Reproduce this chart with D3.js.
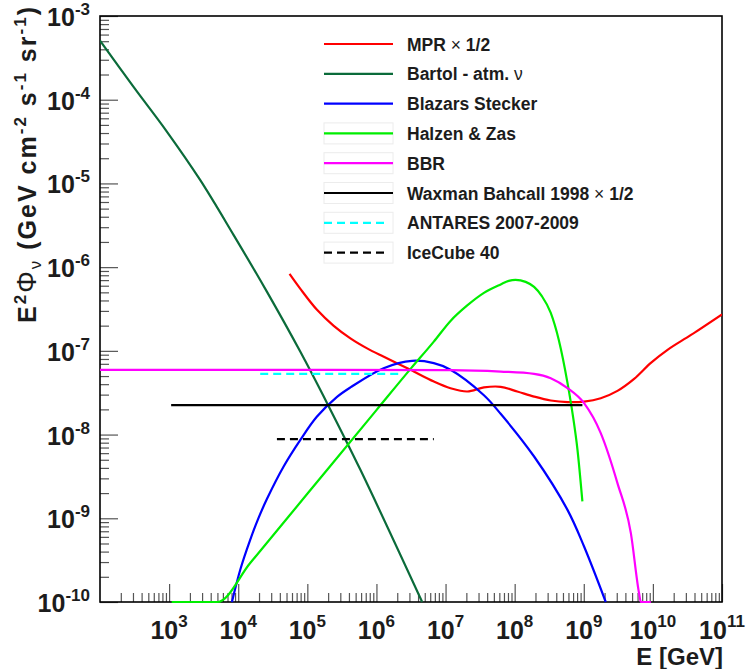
<!DOCTYPE html>
<html><head><meta charset="utf-8">
<script src="https://cdn.jsdelivr.net/npm/d3@7"></script>
<style>
body{margin:0;background:#fff}
svg{display:block}
text{font-family:"Liberation Sans",Arial,Helvetica,sans-serif;font-weight:bold;fill:#1c1c1c}
</style>
</head><body>
<svg id="chart" width="750" height="669"></svg>
<script>
// ---------- data ----------
const xTickExps = [3,4,5,6,7,8,9,10,11];
const yTickExps = [-3,-4,-5,-6,-7,-8,-9,-10];

const bartolE = [1.0e2, 3.04e2, 9.27e2, 2.81e3, 8.55e3, 2.61e4, 7.93e4, 1.99e5, 5.86e5, 4.59e6];
const bartolF = [5.07e-4, 1.43e-4, 4.16e-5, 1.10e-5, 2.43e-6, 5.06e-7, 9.73e-8, 2.26e-8, 3.79e-9, 1.0e-10];

const mprE = [5.53e4, 7.93e4, 1.38e5, 2.41e5, 4.20e5, 7.33e5, 1.28e6, 3.11e6, 6.78e6, 1.18e7, 2.06e7, 3.59e7, 6.27e7, 1.09e8, 1.91e8, 3.33e8, 5.81e8, 1.01e9, 1.76e9, 3.07e9, 5.35e9, 9.35e9, 1.63e10, 3.56e10, 1.0e11];
const mprF = [8.30e-7, 5.50e-7, 3.09e-7, 1.99e-7, 1.41e-7, 1.07e-7, 8.48e-8, 5.93e-8, 4.30e-8, 3.58e-8, 3.27e-8, 3.66e-8, 3.72e-8, 3.27e-8, 2.84e-8, 2.55e-8, 2.44e-8, 2.48e-8, 2.72e-8, 3.33e-8, 4.63e-8, 7.19e-8, 1.03e-7, 1.55e-7, 2.73e-7];

const blazarE = [8.11e3, 1.07e4, 1.49e4, 1.97e4, 2.61e4, 4.54e4, 7.93e4, 1.38e5, 2.69e5, 4.20e5, 1.27e6, 3.28e6, 6.76e6, 1.18e7, 3.59e7, 6.27e7, 1.91e8, 5.81e8, 1.01e9, 2.08e9];
const blazarF = [1.0e-10, 2.43e-10, 5.53e-10, 1.01e-9, 1.71e-9, 4.16e-9, 8.65e-9, 1.64e-8, 2.82e-8, 3.66e-8, 6.21e-8, 7.60e-8, 7.13e-8, 5.95e-8, 2.95e-8, 1.77e-8, 5.47e-9, 1.26e-9, 4.60e-10, 1.0e-10];

const halzenE = [1.09e3, 5.01e3, 1.49e4, 1.0e5, 1.0e6, 3.16e6, 6.76e6, 1.18e7, 2.06e7, 3.59e7, 6.27e7, 8.19e7, 1.03e8, 1.44e8, 1.91e8, 2.46e8, 3.33e8, 4.35e8, 5.81e8, 6.93e8, 8.11e8, 9.55e8];
const halzenF = [1.0e-10, 1.0e-10, 2.92e-10, 1.96e-9, 1.96e-8, 6.18e-8, 1.29e-7, 2.28e-7, 3.49e-7, 4.93e-7, 6.22e-7, 6.85e-7, 7.05e-7, 6.67e-7, 5.81e-7, 4.54e-7, 2.84e-7, 1.35e-7, 4.15e-8, 1.72e-8, 6.58e-9, 1.59e-9];

const bbrE = [1.0e2, 1.0e5, 1.18e7, 6.27e7, 1.91e8, 3.33e8, 5.81e8, 1.01e9, 1.76e9, 3.07e9, 4.80e9, 6.30e9, 6.70e9, 9.35e9];
const bbrF = [5.93e-8, 5.93e-8, 5.90e-8, 5.66e-8, 5.31e-8, 4.72e-8, 3.59e-8, 2.37e-8, 1.04e-8, 2.63e-9, 6.65e-10, 1.28e-10, 1.0e-10, 1.0e-10];

const waxmanE = [1.07e3, 9.55e8];
const waxmanF = [2.25e-8, 2.25e-8];

const antaresE = [2.08e4, 2.43e6];
const antaresF = [5.3e-8, 5.3e-8];

const icecubeE = [3.63e4, 6.76e6];
const icecubeF = [8.8e-9, 8.8e-9];

const legendLabels = ["MPR |× 1/2", "Bartol - atm. |ν", "Blazars Stecker", "Halzen & Zas", "BBR", "Waxman Bahcall 1998 |× 1/2", "ANTARES 2007-2009", "IceCube 40"];

// ---------- styles ----------
const series = [
  {E: mprE, F: mprF, color: "#ff0000", dash: null, box: false, curve: "cr"},
  {E: bartolE, F: bartolF, color: "#0b6b3a", dash: null, box: false, curve: "cr"},
  {E: blazarE, F: blazarF, color: "#0000ff", dash: null, box: false, curve: "cr"},
  {E: halzenE, F: halzenF, color: "#00ee00", dash: null, box: true, curve: "mono"},
  {E: bbrE, F: bbrF, color: "#ff00ff", dash: null, box: true, curve: "mono"},
  {E: waxmanE, F: waxmanF, color: "#000000", dash: null, box: true, curve: "mono"},
  {E: antaresE, F: antaresF, color: "#00ffff", dash: "8,5", box: true, curve: "mono"},
  {E: icecubeE, F: icecubeF, color: "#000000", dash: "8,5", box: true, curve: "mono"}
];

const L = 100, R = 722, T = 16, B = 602;
const svg = d3.select("#chart");
const x = d3.scaleLog().domain([1e2, 1e11]).range([L, R]);
const y = d3.scaleLog().domain([1e-10, 1e-3]).range([B, T]);

// minor ticks
const xMinor = [], yMinor = [];
for (let e = 2; e < 11; e++) for (let m = 2; m <= 9; m++) xMinor.push(m * Math.pow(10, e));
for (let e = -10; e < -3; e++) for (let m = 2; m <= 9; m++) yMinor.push(m * Math.pow(10, e));
const xMajor = xTickExps.map(e => Math.pow(10, e));
const yMajor = yTickExps.map(e => Math.pow(10, e));

function styleAxis(g){ g.select(".domain").remove(); g.selectAll("line").attr("stroke","#555").attr("stroke-width",1.2); g.selectAll("text").remove(); }

svg.append("g").attr("transform",`translate(0,${B})`)
  .call(d3.axisBottom(x).tickValues(xMinor).tickSizeInner(-9).tickSizeOuter(0).tickFormat(""))
  .call(styleAxis);
svg.append("g").attr("transform",`translate(0,${B})`)
  .call(d3.axisBottom(x).tickValues(xMajor).tickSizeInner(-18).tickSizeOuter(0).tickFormat(""))
  .call(styleAxis);
svg.append("g").attr("transform",`translate(${L},0)`)
  .call(d3.axisLeft(y).tickValues(yMinor).tickSizeInner(-9).tickSizeOuter(0).tickFormat(""))
  .call(styleAxis);
svg.append("g").attr("transform",`translate(${L},0)`)
  .call(d3.axisLeft(y).tickValues(yMajor).tickSizeInner(-18).tickSizeOuter(0).tickFormat(""))
  .call(styleAxis);

// tick labels
xTickExps.forEach(e => {
  const t = svg.append("text").attr("x", x(Math.pow(10,e))).attr("y", B + 37).attr("text-anchor","middle").style("font-size","25px");
  t.append("tspan").text("10");
  t.append("tspan").attr("dy", -12).style("font-size","17px").text(e);
});
yTickExps.forEach(e => {
  const t = svg.append("text").attr("x", 90).attr("y", y(Math.pow(10,e)) + 10).attr("text-anchor","end").style("font-size","25px");
  t.append("tspan").text("10");
  t.append("tspan").attr("dy", -11).style("font-size","17px").text(e);
});

// axis titles
svg.append("text").attr("x", R + 1).attr("y", 665).attr("text-anchor","end").style("font-size","24px").text("E [GeV]");

const yt = svg.append("text").attr("transform","translate(36,5) rotate(-90)").attr("text-anchor","end").style("font-size","25px");
yt.append("tspan").text("E");
yt.append("tspan").attr("dy",-10).style("font-size","17px").text("2");
yt.append("tspan").attr("dy",10).style("font-weight","normal").style("font-size","27px").text("Φ");
yt.append("tspan").attr("dy",5).style("font-size","17px").style("font-weight","normal").text("ν");
yt.append("tspan").attr("dy",-5).text(" (GeV cm");
yt.append("tspan").attr("dy",-10).style("font-size","17px").text("-2");
yt.append("tspan").attr("dy",10).text(" s");
yt.append("tspan").attr("dy",-10).style("font-size","17px").text("-1");
yt.append("tspan").attr("dy",10).text(" sr");
yt.append("tspan").attr("dy",-10).style("font-size","17px").text("-1");
yt.append("tspan").attr("dy",10).text(")");
{
  const node = yt.node();
  const len = node.getComputedTextLength();
  const n = node.textContent.length;
  const target = 318;
  if (len < target) yt.style("letter-spacing", ((target - len) / n).toFixed(2) + "px");
}

// frame (drawn under the curves)
svg.append("rect").attr("x",L).attr("y",T).attr("width",R-L).attr("height",B-T)
  .attr("fill","none").attr("stroke","#000").attr("stroke-width",1.6);

// curves
svg.append("clipPath").attr("id","plotclip").append("rect").attr("x",L).attr("y",T-1).attr("width",R-L).attr("height",B-T+2.5);
const plot = svg.append("g").attr("clip-path","url(#plotclip)");
const drawOrder = [1, 0, 2, 3, 4, 5, 6, 7];
drawOrder.forEach(i => {
  const s = series[i];
  const pts = s.E.map((e, k) => [e, s.F[k]]);
  const line = d3.line().x(d => x(d[0])).y(d => y(d[1]))
    .curve(s.curve === "cr" ? d3.curveCatmullRom.alpha(0.5) : d3.curveMonotoneX);
  plot.append("path").attr("d", line(pts)).attr("fill","none")
    .attr("stroke", s.color).attr("stroke-width", 2.2)
    .attr("stroke-dasharray", s.dash);
});

// legend
const lx0 = 324, lx1 = 393, ly0 = 44, ldy = 29.8;
legendLabels.forEach((lab, i) => {
  const s = series[i];
  const cy = ly0 + i * ldy;
  if (s.box) svg.append("rect").attr("x", lx0).attr("y", cy - 10.5).attr("width", lx1 - lx0).attr("height", 21)
      .attr("fill","none").attr("stroke","#ececec").attr("stroke-width",1);
  svg.append("line").attr("x1", lx0).attr("x2", s.dash ? lx1 - 5 : lx1).attr("y1", cy).attr("y2", cy)
    .attr("stroke", s.color).attr("stroke-width", 2.2).attr("stroke-dasharray", s.dash);
  const t = svg.append("text").attr("x", 407).attr("y", cy + 6.5).style("font-size","17.5px");
  const parts = lab.split("|");
  t.append("tspan").text(parts[0]);
  if (parts.length > 1) {
    t.append("tspan").style("font-weight","normal").text(parts[1][0]);
    if (parts[1].length > 1) t.append("tspan").text(parts[1].slice(1));
  }
});
</script>
</body></html>
